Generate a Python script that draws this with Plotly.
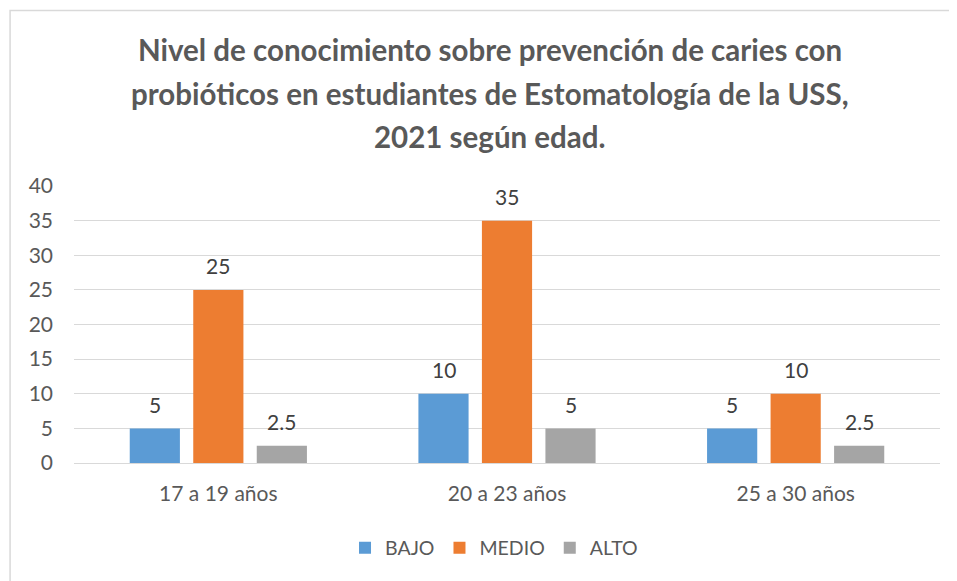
import plotly.graph_objects as go

categories = ["17 a 19 años", "20 a 23 años", "25 a 30 años"]
series_names = ["BAJO", "MEDIO", "ALTO"]
bajo = [5, 10, 5]
medio = [25, 35, 10]
alto = [2.5, 5, 2.5]
y_ticks = [0, 5, 10, 15, 20, 25, 30, 35, 40]
title_lines = [
    "Nivel de conocimiento sobre prevención de caries con",
    "probióticos en estudiantes de Estomatología de la USS,",
    "2021 según edad.",
]

colors = ["#5B9BD5", "#ED7D31", "#A5A5A5"]
FONT = "Lato"
TXT = "#595959"

# the page body adds an 8px offset; size the figure so it fills the window
OFF = 8
W, H = 957 - OFF, 581 - OFF
ML, MR, MT, MB = 73.5 - OFF, 16.5, 186 - OFF, 118
PW = W - ML - MR
PH = H - MT - MB


def px_x(x):
    return (x - OFF - ML) / PW


def px_y(y):
    return (H - MB - (y - OFF)) / PH


fig = go.Figure()
all_series = [bajo, medio, alto]
for name, vals, col in zip(series_names, all_series, colors):
    fig.add_trace(go.Bar(x=categories, y=vals, name=name, marker_color=col,
                         marker_line_width=0))

# data labels
slot = 63.5
for i, vals in enumerate(all_series):
    for c, v in zip(categories, vals):
        fig.add_annotation(x=c, y=v, xref="x", yref="y", text=f"{v:g}",
                           showarrow=False, xshift=(i - 1) * slot, yshift=24,
                           yanchor="middle",
                           font=dict(family=FONT, size=21, color="#404040"))

# title lines
title_y_px = [50, 94, 137]
for line, py in zip(title_lines, title_y_px):
    fig.add_annotation(text=f"<b>{line}</b>", xref="paper", yref="paper",
                       x=px_x(490), y=px_y(py),
                       xanchor="center", yanchor="middle", showarrow=False,
                       font=dict(family=FONT, size=29.5, color=TXT))

# chart border (top and left edges visible)
fig.add_shape(type="rect", xref="paper", yref="paper",
              x0=px_x(9.5), x1=1.2, y0=-0.8, y1=px_y(10.5),
              line=dict(color="#D9D9D9", width=1.5), layer="below")

fig.update_layout(
    width=W, height=H,
    margin=dict(l=ML, r=MR, t=MT, b=MB),
    paper_bgcolor="white", plot_bgcolor="white",
    barmode="group", bargap=0.34, bargroupgap=0.21,
    font=dict(family=FONT, color=TXT, size=21),
    showlegend=True,
    legend=dict(orientation="h", xanchor="center", yanchor="middle",
                x=px_x(494), y=px_y(548),
                font=dict(family=FONT, size=19.5, color=TXT),
                itemwidth=30, traceorder="normal"),
)
fig.update_xaxes(showgrid=False, showline=False, ticks="outside", ticklen=12,
                 tickcolor="rgba(0,0,0,0)", tickfont=dict(size=21, color=TXT))
fig.update_yaxes(range=[0, 40], tickvals=y_ticks, showgrid=True,
                 gridcolor="#D9D9D9", gridwidth=1, zeroline=True,
                 zerolinecolor="#D9D9D9", zerolinewidth=1, showline=False,
                 ticklabelstandoff=20, tickfont=dict(size=21, color=TXT))

fig.write_html("out.html")
